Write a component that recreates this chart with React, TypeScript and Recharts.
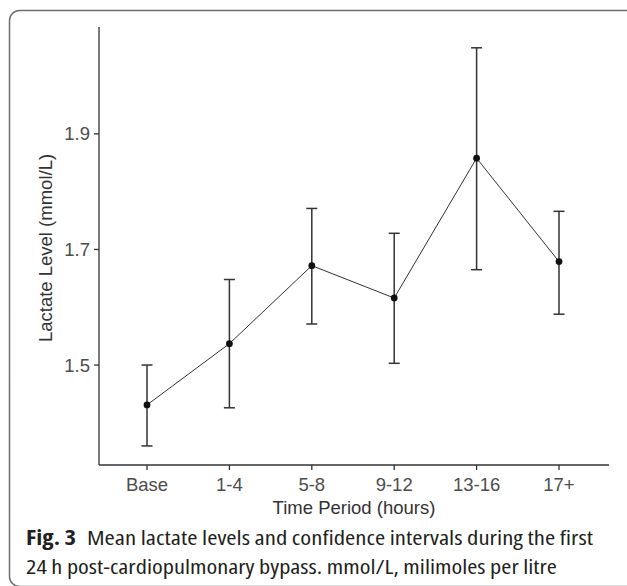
import { LineChart, Line, XAxis, YAxis, ErrorBar, Label } from 'recharts';

const periods = ['Base', '1-4', '5-8', '9-12', '13-16', '17+'];
const meanLactate = [1.431, 1.537, 1.672, 1.616, 1.858, 1.679];
const lowerCI = [1.36, 1.426, 1.571, 1.503, 1.665, 1.588];
const upperCI = [1.5, 1.648, 1.771, 1.728, 2.049, 1.766];
const yTicks = [1.5, 1.7, 1.9];

const data = periods.map((p, i) => ({
  period: p,
  mean: meanLactate[i],
  err: [meanLactate[i] - lowerCI[i], upperCI[i] - meanLactate[i]],
}));

const axisFont = '"Liberation Sans", Arial, sans-serif';
const captionFont = '"Open Sans", sans-serif';

export default function App() {
  return (
    <div style={{ position: 'absolute', left: 0, top: 0, width: 627, height: 586, overflow: 'hidden', background: '#fff' }}>
      <LineChart width={627} height={530} data={data} margin={{ top: 27, right: 18, left: 0, bottom: 0 }}>
        <XAxis
          dataKey="period"
          height={65}
          padding={{ left: 48, right: 50 }}
          tickSize={5}
          tickMargin={8}
          axisLine={{ stroke: '#333', strokeWidth: 1.3 }}
          tickLine={{ stroke: '#333', strokeWidth: 1.3 }}
          tick={{ fill: '#4d4d4d', fontSize: 18.5, fontFamily: axisFont }}
        >
          <Label
            content={(props: any) => {
              const vb = props.viewBox;
              return (
                <text x={vb.x + vb.width / 2} y={514} textAnchor="middle" fill="#333" fontSize={18.5} fontFamily={axisFont}>
                  Time Period (hours)
                </text>
              );
            }}
          />
        </XAxis>
        <YAxis
          width={99}
          type="number"
          domain={[1.327, 2.085]}
          allowDataOverflow
          ticks={yTicks}
          tickFormatter={(v: number) => v.toFixed(1)}
          tickSize={5}
          tickMargin={4}
          axisLine={{ stroke: '#333', strokeWidth: 1.3 }}
          tickLine={{ stroke: '#333', strokeWidth: 1.3 }}
          tick={{ fill: '#4d4d4d', fontSize: 18.5, fontFamily: axisFont }}
        >
          <Label
            content={() => (
              <text x={52} y={248} transform="rotate(-90, 52, 248)" textAnchor="middle" fill="#333" fontSize={18.5} fontFamily={axisFont}>
                Lactate Level (mmol/L)
              </text>
            )}
          />
        </YAxis>
        <Line
          type="linear"
          dataKey="mean"
          stroke="#333"
          strokeWidth={1}
          dot={{ r: 3.4, fill: '#111', stroke: 'none' }}
          activeDot={false}
          isAnimationActive={false}
        >
          <ErrorBar dataKey="err" direction="y" width={5.5} stroke="#333" strokeWidth={1.5} isAnimationActive={false} />
        </Line>
      </LineChart>
      <svg width={627} height={586} style={{ position: 'absolute', left: 0, top: 0, pointerEvents: 'none' }}>
        <rect x={9.5} y={10.5} width={640} height={576} rx={10} fill="none" stroke="#6e6e6e" strokeWidth={1.5} />
        <g fontFamily={captionFont} fontSize={20.5} fill="#231f20" style={{ fontStretch: '75%' }}>
          <text x={26} y={545} fontWeight="bold" textLength={50} lengthAdjust="spacingAndGlyphs">
            Fig. 3
          </text>
          <text x={87} y={545} textLength={506} lengthAdjust="spacingAndGlyphs">
            Mean lactate levels and confidence intervals during the first
          </text>
          <text x={26} y={574} textLength={531} lengthAdjust="spacingAndGlyphs">
            24 h post-cardiopulmonary bypass. mmol/L, milimoles per litre
          </text>
        </g>
      </svg>
    </div>
  );
}
